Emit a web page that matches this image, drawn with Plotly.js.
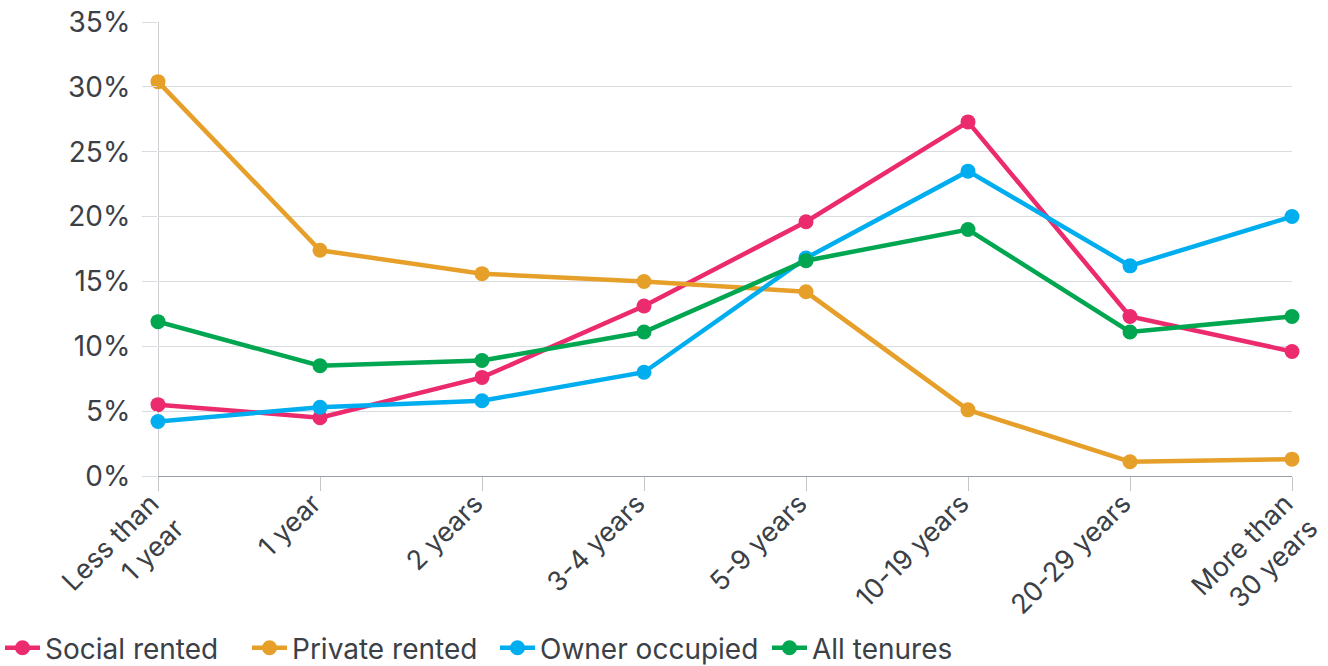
<!DOCTYPE html>
<html>
<head>
<meta charset="utf-8">
<script src="https://cdn.plot.ly/plotly-3.0.1.min.js"></script>
<style>html,body{margin:0;padding:0;background:#fff;}#chart{width:1328px;height:666px;}</style>
</head>
<body>
<div id="chart"></div>
<script>
const categories = ["Less than<br>1 year", "1 year", "2 years", "3-4 years", "5-9 years", "10-19 years", "20-29 years", "More than<br>30 years"];
const socialRented = [5.5, 4.5, 7.6, 13.1, 19.6, 27.3, 12.3, 9.6];
const privateRented = [30.4, 17.4, 15.6, 15.0, 14.2, 5.1, 1.1, 1.3];
const ownerOccupied = [4.2, 5.3, 5.8, 8.0, 16.8, 23.5, 16.2, 20.0];
const allTenures = [11.9, 8.5, 8.9, 11.1, 16.6, 19.0, 11.1, 12.3];
const yTicks = [0, 5, 10, 15, 20, 25, 30, 35];

const seriesDefs = [
  {name: "Social rented", y: socialRented, color: "#EC2A6E", legend: "legend", lx: 0},
  {name: "Private rented", y: privateRented, color: "#E6A02A", legend: "legend2", lx: 247},
  {name: "Owner occupied", y: ownerOccupied, color: "#00AEEF", legend: "legend3", lx: 495},
  {name: "All tenures", y: allTenures, color: "#00A650", legend: "legend4", lx: 767}
];

const traces = seriesDefs.map(s => ({
  type: "scatter",
  mode: "lines+markers",
  name: s.name,
  legend: s.legend,
  x: categories,
  y: s.y,
  line: {color: s.color, width: 4.5},
  marker: {color: s.color, size: 15},
  cliponaxis: false,
  hoverinfo: "skip"
}));

const font = "Inter, Roboto, 'DejaVu Sans', sans-serif";
const W = 1328, H = 666;

const layout = {
  width: W,
  height: H,
  margin: {l: 158, r: 36, t: 22, b: 190},
  paper_bgcolor: "#fff",
  plot_bgcolor: "#fff",
  font: {family: font, color: "#3b4047", size: 28},
  showlegend: true,
  xaxis: {
    type: "category",
    range: [0, 7],
    automargin: false,
    showgrid: false,
    zeroline: false,
    showline: false,
    ticks: "outside",
    ticklen: 14,
    tickwidth: 1,
    tickcolor: "#c3c7cc",
    tickangle: -45,
    ticklabelstandoff: -14,
    ticklabelshift: -7,
    tickfont: {size: 27, color: "#3b4047"},
    fixedrange: true
  },
  yaxis: {
    range: [0, 35],
    automargin: false,
    tickvals: yTicks,
    ticktext: yTicks.map(v => v + "%"),
    showgrid: true,
    gridcolor: "#d8dbe0",
    gridwidth: 1,
    zeroline: true,
    zerolinecolor: "#9aa0a8",
    zerolinewidth: 1,
    showline: false,
    ticks: "outside",
    ticklen: 15,
    tickcolor: "#d8dbe0",
    ticklabelstandoff: 6,
    tickfont: {size: 28, color: "#3b4047"},
    fixedrange: true
  },
  shapes: [
    {type: "line", xref: "x", yref: "paper", x0: 0, x1: 0, y0: 0, y1: 1, line: {color: "#9aa0a8", width: 1}, layer: "below"}
  ]
};

seriesDefs.forEach(s => {
  layout[s.legend] = {
    orientation: "h",
    xref: "container", yref: "container",
    x: s.lx / W, xanchor: "left",
    y: 1 - 648 / H, yanchor: "middle",
    font: {size: 28, color: "#3b4047"},
    itemwidth: 35,
    bgcolor: "rgba(0,0,0,0)"
  };
});

Plotly.newPlot("chart", traces, layout, {displayModeBar: false, staticPlot: true});
</script>
</body>
</html>
